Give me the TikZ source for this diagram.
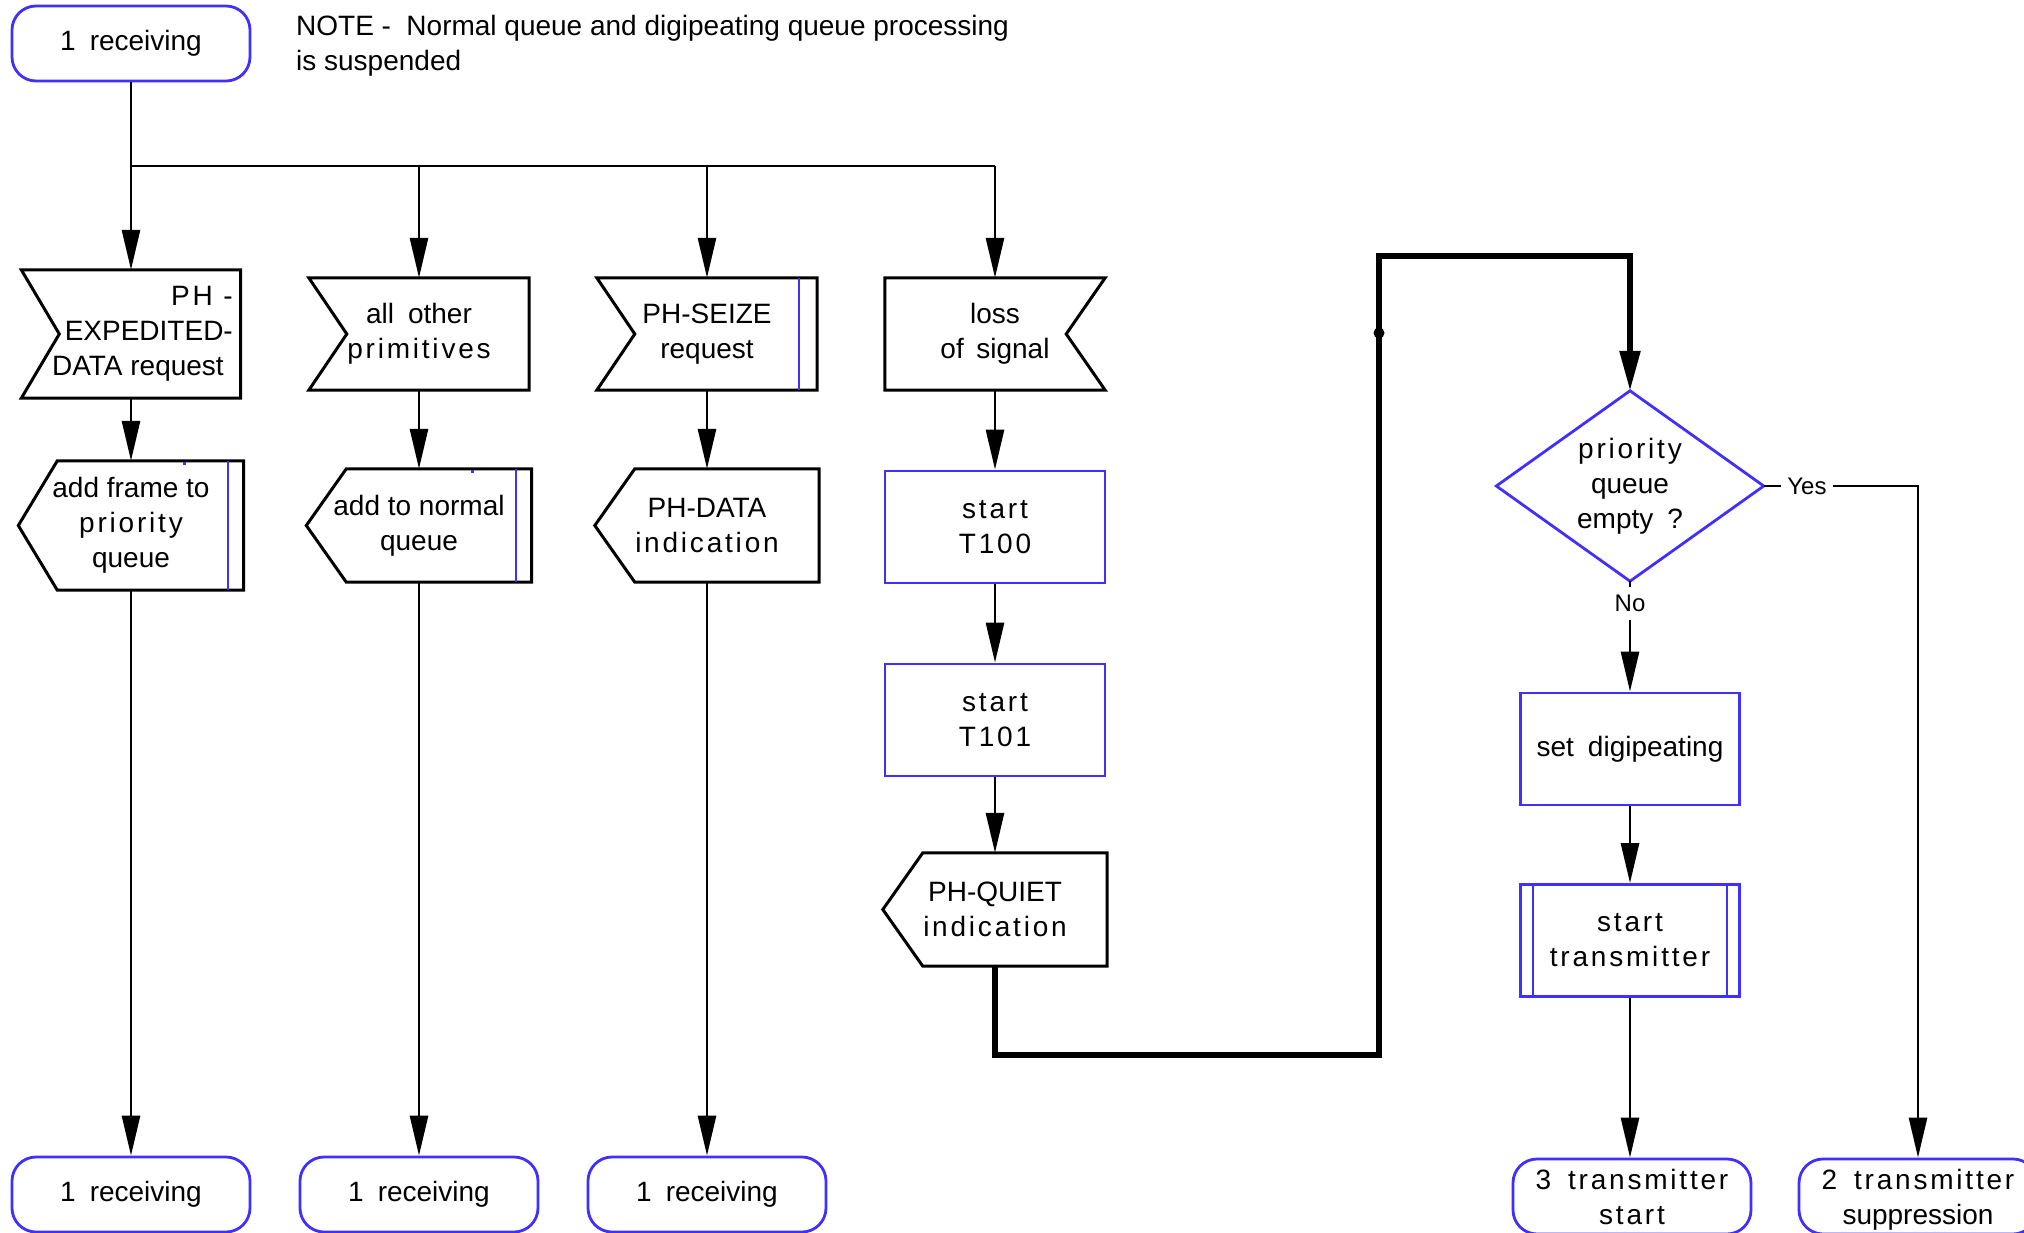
\documentclass[tikz,border=0pt]{standalone}
\usepackage{fontspec}
\setmainfont{Liberation Sans}
\newfontfamily\trk[LetterSpace=10]{Liberation Sans}
\usetikzlibrary{arrows.meta,calc}
\definecolor{sdlblue}{RGB}{64,48,255}
\begin{document}
\begin{tikzpicture}[x=1pt,y=-1pt,
  txt/.style={font=\fontsize{28}{35}\selectfont, align=center, inner sep=0pt},
  state/.style={txt, draw=sdlblue, line width=2.8pt, rounded corners=24pt, minimum width=238pt, minimum height=75pt},
  task/.style={txt, draw=sdlblue, line width=2.8pt, minimum width=219pt, minimum height=112pt},
  frame/.style={txt},
  outl/.style={draw=black, line width=3pt, line join=miter},
  bluemark/.style={draw=sdlblue, line width=2.3pt},
  wire/.style={line width=2.8pt},
  flow/.style={line width=2.8pt, -{Triangle[length=40pt,width=18pt]}},
  bigflow/.style={line width=5.5pt, -{Triangle[length=40pt,width=20pt]}},
  lab/.style={font=\fontsize{24}{28}\selectfont, fill=white, inner xsep=6pt, inner ysep=8pt}
]
\useasboundingbox (0,0) rectangle (2024,1233);

% note
\node[txt, anchor=north west, align=left] (note) at (296,15) {NOTE -\hspace{0.55em}Normal queue and digipeating queue processing\\is suspended};

% top state
\node[state] (r0) at (131,43.5) {1\hspace{0.5em}receiving};

% junction coordinates
\coordinate (j1) at (131,166);
\coordinate (j2) at (419,166);
\coordinate (j3) at (707,166);
\coordinate (j4) at (995,166);

% row 1 : inputs
\node[frame, minimum width=219pt, minimum height=128pt] (pe) at (131,334) {};
\node[txt, align=right, anchor=east] (pet) at (233,334) {{\trk PH -}\\EXPEDITED-\\DATA request\hspace*{9pt}};
\node[frame, minimum width=220pt, minimum height=112pt] (ao) at (419,334) {all\hspace{0.5em}other\\{\trk primitives}};
\node[frame, minimum width=220pt, minimum height=112pt] (ps) at (707,334) {PH-SEIZE\\request};
\node[frame, minimum width=220pt, minimum height=112pt] (ls) at (995,334) {loss\\of\hspace{0.45em}signal};

\draw[outl] (pe.north west) -- (pe.north east) -- (pe.south east) -- (pe.south west) -- ($(pe.west)+(38,0)$) -- cycle;
\draw[outl] (ao.north west) -- (ao.north east) -- (ao.south east) -- (ao.south west) -- ($(ao.west)+(38,0)$) -- cycle;
\draw[outl] (ps.north west) -- (ps.north east) -- (ps.south east) -- (ps.south west) -- ($(ps.west)+(38,0)$) -- cycle;
\draw[bluemark] ($(ps.north east)+(-18,0)$) -- ($(ps.south east)+(-18,0)$);
\draw[outl] (ls.north west) -- (ls.north east) -- ($(ls.east)+(-39,0)$) -- (ls.south east) -- (ls.south west) -- cycle;

% row 2
\node[frame, minimum width=225pt, minimum height=129pt] (af) at (131,525.5) {add frame to\\{\trk priority}\\queue};
\node[frame, minimum width=225pt, minimum height=113pt] (an) at (419,525.5) {add to normal\\queue};
\node[frame, minimum width=224pt, minimum height=113pt] (pd) at (707,525.5) {PH-DATA\\{\trk indication}};
\node[task, minimum width=220pt] (t100) at (995,527) {{\trk start}\\{\trk T100}};
\node[task, minimum width=220pt] (t101) at (995,720) {{\trk start}\\{\trk T101}};
\node[frame, minimum width=224pt, minimum height=113pt] (pq) at (995,909.5) {PH-QUIET\\{\trk indication}};

\draw[outl] ($(af.north west)+(39,0)$) -- (af.north east) -- (af.south east) -- ($(af.south west)+(39,0)$) -- (af.west) -- cycle;
\draw[bluemark] ($(af.north east)+(-16,0)$) -- ($(af.south east)+(-16,0)$);
\fill[sdlblue] ($(af.north west)+(165,1.5)$) rectangle ++(3,3);
\draw[outl] ($(an.north west)+(40,0)$) -- (an.north east) -- (an.south east) -- ($(an.south west)+(40,0)$) -- (an.west) -- cycle;
\draw[bluemark] ($(an.north east)+(-16,0)$) -- ($(an.south east)+(-16,0)$);
\fill[sdlblue] ($(an.north west)+(165,1.5)$) rectangle ++(3,3);
\draw[outl] ($(pd.north west)+(40,0)$) -- (pd.north east) -- (pd.south east) -- ($(pd.south west)+(40,0)$) -- (pd.west) -- cycle;
\draw[outl] ($(pq.north west)+(40,0)$) -- (pq.north east) -- (pq.south east) -- ($(pq.south west)+(40,0)$) -- (pq.west) -- cycle;

% right part
\node[frame, minimum width=267pt, minimum height=190pt] (d) at (1630,486) {{\trk priority}\\queue\\empty\hspace{0.5em}?};
\draw[draw=sdlblue, line width=2.8pt] (d.north) -- (d.east) -- (d.south) -- (d.west) -- cycle;
\node[task] (sd) at (1630,749) {set\hspace{0.5em}digipeating};
\node[task] (st) at (1630,940.5) {{\trk start}\\{\trk transmitter}};
\draw[bluemark] ($(st.north west)+(14,0)$) -- ($(st.south west)+(14,0)$);
\draw[bluemark] ($(st.north east)+(-14,0)$) -- ($(st.south east)+(-14,0)$);

% bottom states
\node[state] (r1) at (131,1194.5) {1\hspace{0.5em}receiving};
\node[state] (r2) at (419,1194.5) {1\hspace{0.5em}receiving};
\node[state] (r3) at (707,1194.5) {1\hspace{0.5em}receiving};
\node[state] (ts) at (1632,1196.5) {{\trk 3\hspace{0.6em}transmitter}\\{\trk start}};
\node[state, text depth=0pt] (su) at (1918,1196.5) {{\trk 2\hspace{0.6em}transmitter}\\suppression};

% connectors
\draw[wire] (r0.south) -- (j1) -- (j4);
\draw[flow] (j1) -- (pe.north);
\draw[flow] (j2) -- (ao.north);
\draw[flow] (j3) -- (ps.north);
\draw[flow] (j4) -- (ls.north);
\draw[flow] (pe.south) -- (af.north);
\draw[flow] (af.south) -- (r1.north);
\draw[flow] (ao.south) -- (an.north);
\draw[flow] (an.south) -- (r2.north);
\draw[flow] (ps.south) -- (pd.north);
\draw[flow] (pd.south) -- (r3.north);
\draw[flow] (ls.south) -- (t100.north);
\draw[flow] (t100.south) -- (t101.north);
\draw[flow] (t101.south) -- (pq.north);

\coordinate (k1) at (995,1055);
\coordinate (k2) at (1379,1055);
\coordinate (k3) at (1379,256);
\coordinate (k4) at (1630,256);
\draw[bigflow] (pq.south) -- (k1) -- (k2) -- (k3) -- (k4) -- (d.north);
\node[circle, fill=black, inner sep=0pt, minimum size=11pt] (dot) at (1379,333) {};

\coordinate (k5) at (1918,486);
\draw[flow] (d.south) -- node[lab, pos=0.2] (no) {No} (sd.north);
\draw[flow] (d.east) -- node[lab, pos=0.28] (yes) {Yes} (k5) -- (su.north);
\draw[flow] (sd.south) -- (st.north);
\draw[flow] (st.south) -- (ts.north -| st.south);
\end{tikzpicture}
\end{document}
